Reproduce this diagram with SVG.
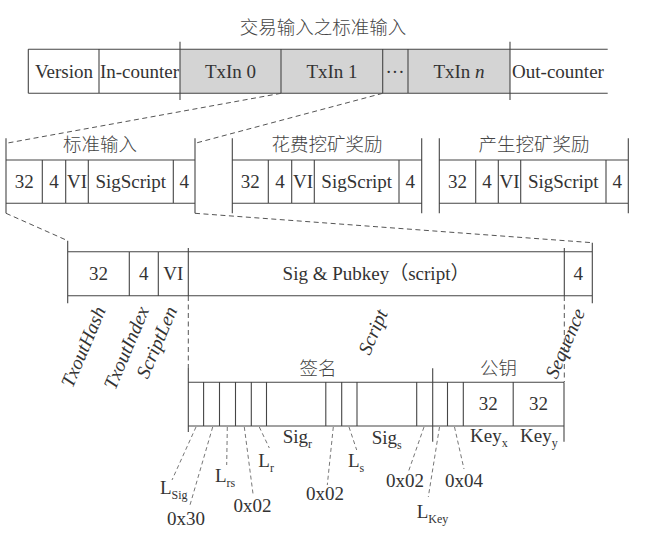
<svg xmlns="http://www.w3.org/2000/svg" width="645" height="557" viewBox="0 0 645 557">
<style>
.ln{stroke:#454545;stroke-width:1.1;fill:none}
.dl{stroke:#555;stroke-width:1;fill:none;stroke-dasharray:5 3.5}
.ld{stroke:#666;stroke-width:0.9;fill:none;stroke-dasharray:4 3}
.t{font-family:"Liberation Serif","Noto Sans CJK SC",serif;font-size:19px;fill:#333}
.c{font-family:"Noto Sans CJK SC","Liberation Serif",sans-serif;font-size:18.5px;fill:#444;font-weight:300}
.m{text-anchor:middle}
.r{font-family:"Liberation Serif",serif;font-size:19.5px;font-style:italic;fill:#333;text-anchor:end}
.s{font-size:12px}
</style>
<rect width="645" height="557" fill="#fff"/>
<text class="c m" x="323" y="33.5">交易输入之标准输入</text>

<g id="tx-row">
<rect x="180" y="49.3" width="330" height="44" fill="#d4d4d4"/>
<path class="ln" d="M28.3 49.3H607.7M28.3 93.3H607.7M28.3 49.3V93.3M99 49.3V93.3M180 41.7V100M281 49.3V93.3M382.7 49.3V93.3M408 49.3V93.3M510 41.7V100"/>
<text class="t m" x="64" y="77.5">Version</text>
<text class="t m" x="139.5" y="77.5">In-counter</text>
<text class="t m" x="230.5" y="77.5">TxIn 0</text>
<text class="t m" x="332" y="77.5">TxIn 1</text>
<text class="t m" x="395" y="77.5">···</text>
<text class="t m" x="459" y="77.5">TxIn <tspan font-style="italic">n</tspan></text>
<text class="t m" x="558" y="77.5">Out-counter</text>
</g>

<g id="std-input">
<path class="ln" d="M6 138.3V213.3M195 138.3V213.3M6 160H195M6 203.3H195M42.3 160V203.3M65.7 160V203.3M88.3 160V203.3M173.3 160V203.3"/>
<text class="c m" x="100" y="150.5">标准输入</text>
<text class="t m" x="24.2" y="188">32</text>
<text class="t m" x="54" y="188">4</text>
<text class="t m" x="77" y="188">VI</text>
<text class="t m" x="130.8" y="188">SigScript</text>
<text class="t m" x="184.2" y="188">4</text>
</g>

<g id="spend-reward">
<path class="ln" d="M232.3 138.3V213.3M421.7 138.3V213.3M232.3 160H421.7M232.3 203.3H421.7M268.3 160V203.3M291.7 160V203.3M314.3 160V203.3M399 160V203.3"/>
<text class="c m" x="327" y="150.5">花费挖矿奖励</text>
<text class="t m" x="250.3" y="188">32</text>
<text class="t m" x="280" y="188">4</text>
<text class="t m" x="303" y="188">VI</text>
<text class="t m" x="356.7" y="188">SigScript</text>
<text class="t m" x="410.3" y="188">4</text>
</g>

<g id="gen-reward">
<path class="ln" d="M439.3 138.3V213.3M628.3 138.3V213.3M439.3 160H628.3M439.3 203.3H628.3M475.7 160V203.3M498.3 160V203.3M520.7 160V203.3M606 160V203.3"/>
<text class="c m" x="534" y="150.5">产生挖矿奖励</text>
<text class="t m" x="457.5" y="188">32</text>
<text class="t m" x="487" y="188">4</text>
<text class="t m" x="509.5" y="188">VI</text>
<text class="t m" x="563.3" y="188">SigScript</text>
<text class="t m" x="617.2" y="188">4</text>
</g>

<g id="txin-detail">
<path class="ln" d="M67.7 251.7H592.3M67.7 295.7H592.3M67.7 240.7V303.3M129.3 251.7V295.7M158.3 251.7V295.7M188.3 248V296M564.3 248V296M592.3 242.7V303.3"/>
<text class="t m" x="98.5" y="280">32</text>
<text class="t m" x="143.8" y="280">4</text>
<text class="t m" x="173.3" y="280">VI</text>
<text class="t m" x="376" y="280">Sig &amp; Pubkey（script）</text>
<text class="t m" x="578.3" y="280">4</text>
<text class="r" transform="translate(106 310) rotate(-67)">TxoutHash</text>
<text class="r" transform="translate(149.5 310) rotate(-67)">TxoutIndex</text>
<text class="r" transform="translate(177.5 310) rotate(-67)">ScriptLen</text>
<text class="r" transform="translate(388 313) rotate(-67)">Script</text>
<text class="r" transform="translate(585.5 312) rotate(-67)">Sequence</text>
</g>

<g id="script-detail">
<path class="ln" d="M188.3 382.3H564M188.3 426H564M188.3 368V432M203.6 382.3V426M219.5 382.3V426M235.5 382.3V426M251.3 382.3V426M266.5 382.3V426M325.8 382.3V426M341.7 382.3V426M357 382.3V426M416.7 382.3V426M432.7 368.3V441.7M447.5 382.3V426M463.3 382.3V426M513.2 382.3V426M564 382.3V441.7"/>
<text class="c m" x="318" y="374.5">签名</text>
<text class="c m" x="498.5" y="374.5">公钥</text>
<text class="t m" x="488.2" y="410">32</text>
<text class="t m" x="538.6" y="410">32</text>
<text class="t" x="282.7" y="442.7">Sig<tspan class="s" dy="5">r</tspan></text>
<text class="t" x="371.7" y="443.5">Sig<tspan class="s" dy="5">s</tspan></text>
<text class="t" x="470" y="442">Key<tspan class="s" dy="5">x</tspan></text>
<text class="t" x="520" y="442">Key<tspan class="s" dy="5">y</tspan></text>
<text class="t" x="160" y="494">L<tspan class="s" dy="5">Sig</tspan></text>
<text class="t m" x="186" y="525">0x30</text>
<text class="t" x="215" y="481.7">L<tspan class="s" dy="5">rs</tspan></text>
<text class="t m" x="252.5" y="511.7">0x02</text>
<text class="t" x="258.3" y="466.7">L<tspan class="s" dy="5">r</tspan></text>
<text class="t m" x="325" y="500">0x02</text>
<text class="t" x="348" y="466.7">L<tspan class="s" dy="5">s</tspan></text>
<text class="t m" x="405" y="487">0x02</text>
<text class="t" x="416.7" y="518.3">L<tspan class="s" dy="5">Key</tspan></text>
<text class="t m" x="464" y="487">0x04</text>
</g>

<g id="connectors">
<path class="dl" d="M281 93.3L6 143.3M382.7 93.3L195 143.3M6 213.3L67.7 240.7M195 213.3L592.3 242.7"/>
<path class="dl" d="M188.3 296V368M564.3 296V382"/>
<path class="ld" d="M196 427L172 480M212.7 427L190 505M227.3 427L226.7 465M244.3 427L253.3 496M259.3 427L269.3 448M333.3 427L327.3 485M349 427L356.7 450M424 427L408.3 472M439.5 427L428.3 497M454.5 427L464 469"/>
</g>
</svg>
